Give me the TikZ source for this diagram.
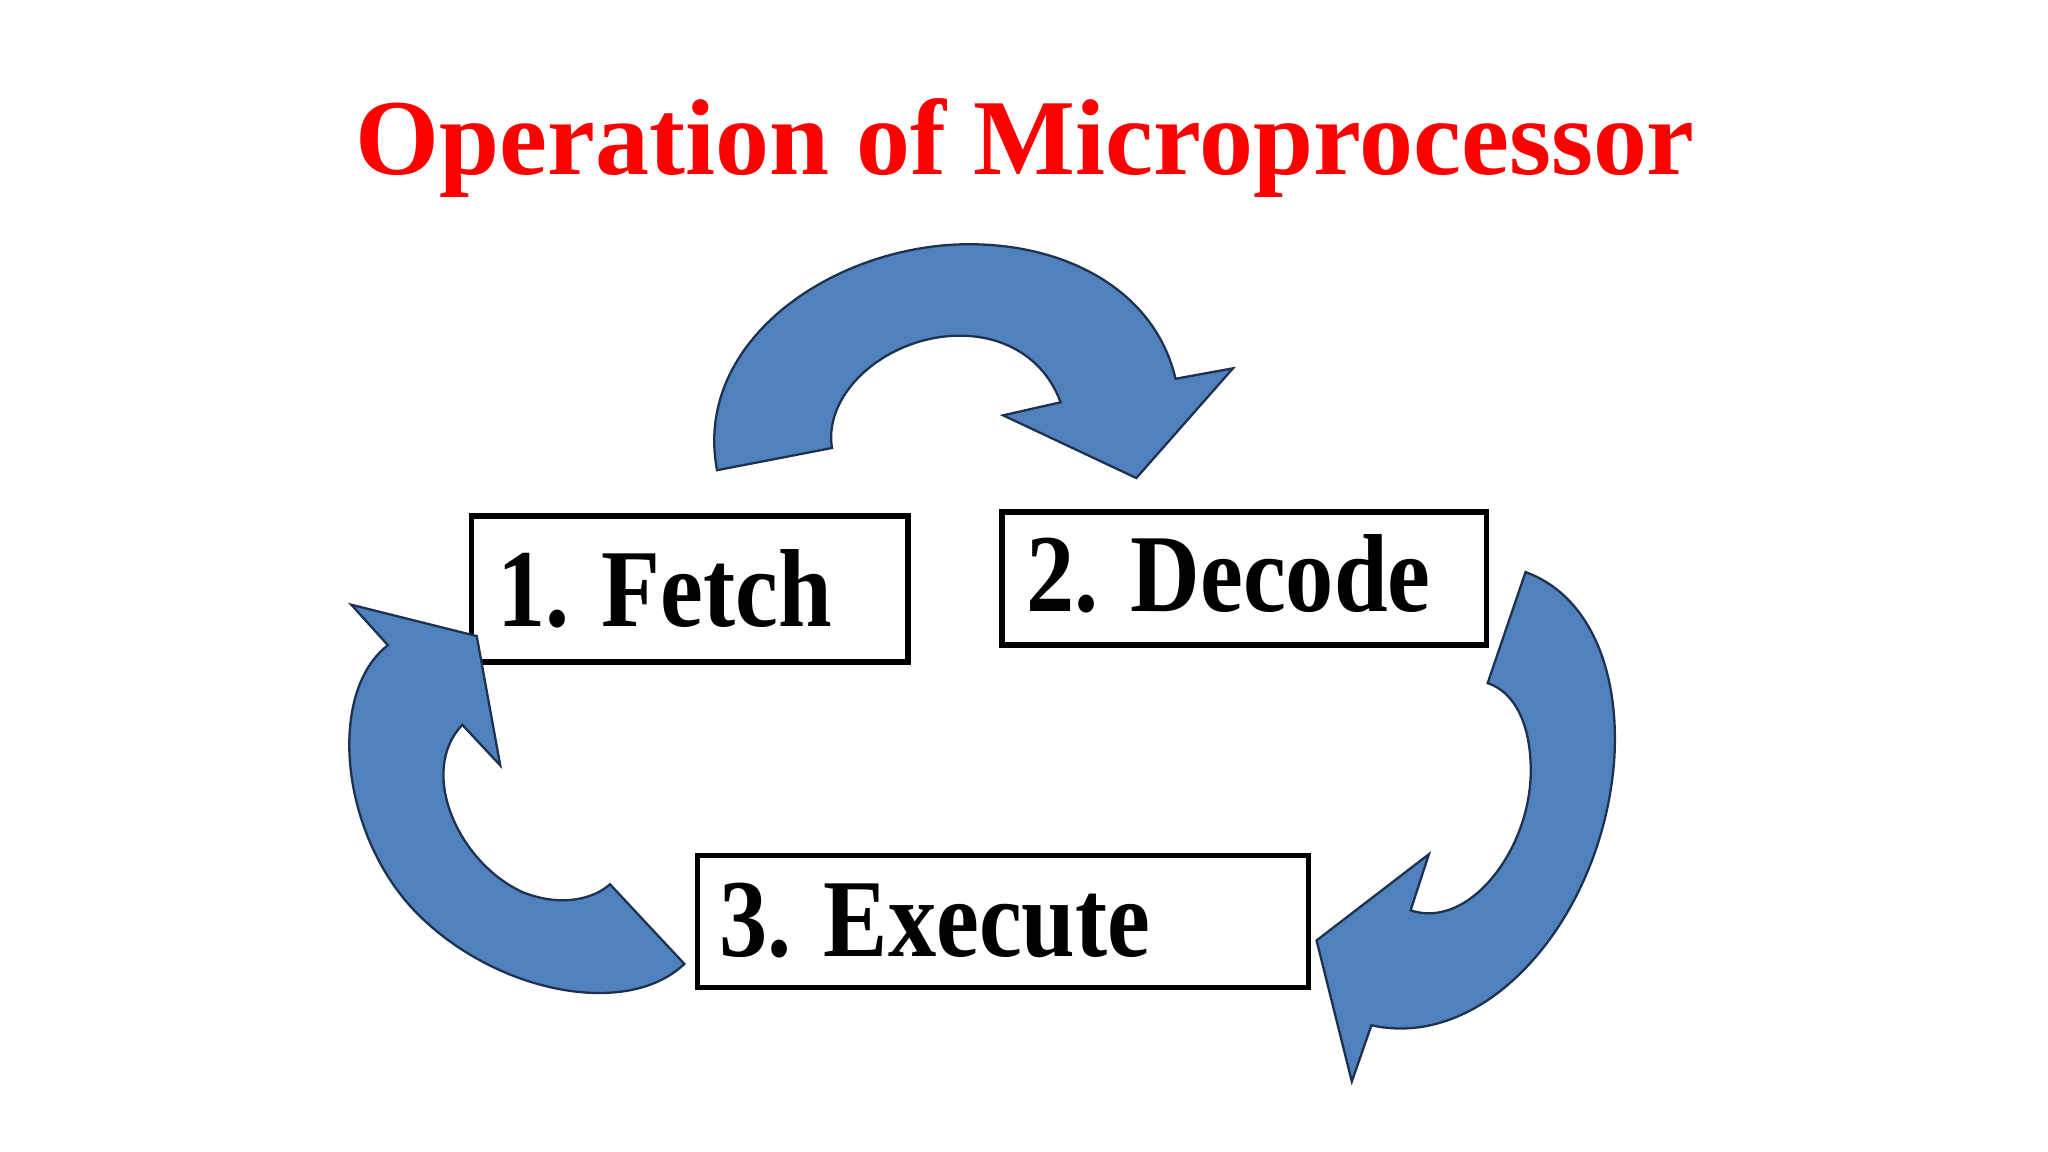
\documentclass[tikz,border=0pt]{standalone}
\usepackage{fontspec}
\setmainfont{Liberation Serif}
\begin{document}
\begin{tikzpicture}[x=0.01cm,y=-0.01cm,
  arr/.style={fill={rgb,255:red,79;green,129;blue,189},draw={rgb,255:red,30;green,50;blue,80},line width=0.5pt},
  box/.style={draw=black,line width=1.2pt,minimum height=0cm},
  lbl/.style={font=\bfseries\fontsize{21}{21}\selectfont,anchor=base west,inner sep=0pt}]
\useasboundingbox (0,0) rectangle (1568,882);
\node[text=red,font=\bfseries\fontsize{23.5}{24}\selectfont] (title) at (785,113) {Operation of Microprocessor};
\draw[box] (361,395) rectangle (695,507);
\draw[box] (767,392) rectangle (1138,494);
\draw[box] (534,655) rectangle (1002,756);
\node[lbl,yscale=1.15] (f) at (380,480) {1. Fetch};
\node[lbl,yscale=1.15] (d) at (785,468) {2. Decode};
\node[lbl,yscale=1.15] (e) at (550,732) {3. Execute};
\draw[arr] (549,360) .. controls (530,260) and (640,187) .. (742,187) .. controls (820,187) and (885,225) .. (900,290) -- (944,282) -- (870,366) -- (768,318) -- (812,308) .. controls (800,275) and (770,257) .. (735,257) .. controls (680,257) and (630,300) .. (637,343) -- cycle;
\draw[arr] (1168,438) .. controls (1215,455) and (1240,510) .. (1236,580) .. controls (1228,700) and (1140,805) .. (1050,785) -- (1035,828) -- (1008,720) -- (1094,654) -- (1080,697) .. controls (1125,712) and (1172,650) .. (1172,590) .. controls (1172,555) and (1160,530) .. (1139,523) -- cycle;
\draw[arr] (269,463) -- (365,487) -- (383,586) -- (354,555) .. controls (320,590) and (350,660) .. (400,683) .. controls (430,695) and (455,688) .. (467,677) -- (524,738) .. controls (480,780) and (380,760) .. (320,700) .. controls (260,640) and (250,530) .. (297,494) -- cycle;
\end{tikzpicture}
\end{document}
